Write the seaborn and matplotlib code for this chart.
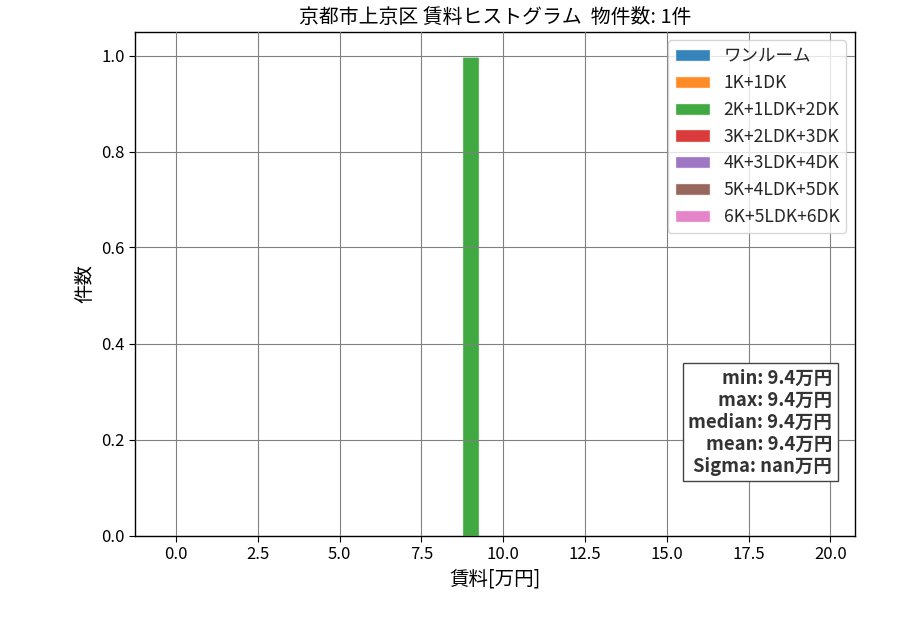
import numpy as np
import pandas as pd
import matplotlib
matplotlib.use("Agg")
import matplotlib.pyplot as plt
import seaborn as sns

# ---- data ----
layouts = ["ワンルーム", "1K+1DK", "2K+1LDK+2DK", "3K+2LDK+3DK",
           "4K+3LDK+4DK", "5K+4LDK+5DK", "6K+5LDK+6DK"]
rents_oneroom = []
rents_1k = []
rents_2k = [9.4]
rents_3k = []
rents_4k = []
rents_5k = []
rents_6k = []
bin_start, bin_stop, bin_step = 0.0, 20.5, 0.5
stats_labels = ["min", "max", "median", "mean", "Sigma"]
stats_values = ["9.4", "9.4", "9.4", "9.4", "nan"]
title_text = "京都市上京区 賃料ヒストグラム  物件数: 1件"

sns.set_style("white")
plt.rcParams['font.family'] = ['Noto Sans CJK JP', 'DejaVu Sans']
plt.rcParams['axes.unicode_minus'] = False

fig = plt.figure(figsize=(9, 6.3), dpi=100)
ax = fig.add_axes([0.15, 0.15, 0.80, 0.80])

series = [rents_oneroom, rents_1k, rents_2k, rents_3k, rents_4k, rents_5k, rents_6k]
colors = sns.color_palette("tab10", 7)
bins = np.arange(bin_start, bin_stop, bin_step)
ax.hist([np.asarray(s, dtype=float) for s in series], bins=bins, stacked=True,
        align='left', color=colors, alpha=0.9, label=layouts)

for sp in ax.spines.values():
    sp.set_color('black')
    sp.set_linewidth(1.0)
ax.tick_params(axis='both', which='both', direction='out', length=4,
               labelsize=12, color='black', labelcolor='black',
               bottom=True, left=True)
ax.grid(True, color='gray', linewidth=0.8)
ax.set_axisbelow(False)

ax.set_title(title_text, fontsize=14.3, color='black')
ax.set_xlabel("賃料[万円]", fontsize=14, color='black')
ax.set_ylabel("件数", fontsize=14, color='black')

leg = ax.legend(loc='upper right', fontsize=12.6, frameon=True)
leg.get_frame().set_edgecolor('#cccccc')

stats_text = "\n".join(f"{k}: {v}万円" for k, v in zip(stats_labels, stats_values))
ax.text(0.968, 0.119, stats_text, transform=ax.transAxes, ha='right', va='bottom',
        multialignment='right', fontsize=13.3, fontweight='bold', color='#333333',
        bbox=dict(boxstyle='square,pad=0.3', facecolor='white', edgecolor='#444444'))

fig.savefig("out.png", dpi=100)
